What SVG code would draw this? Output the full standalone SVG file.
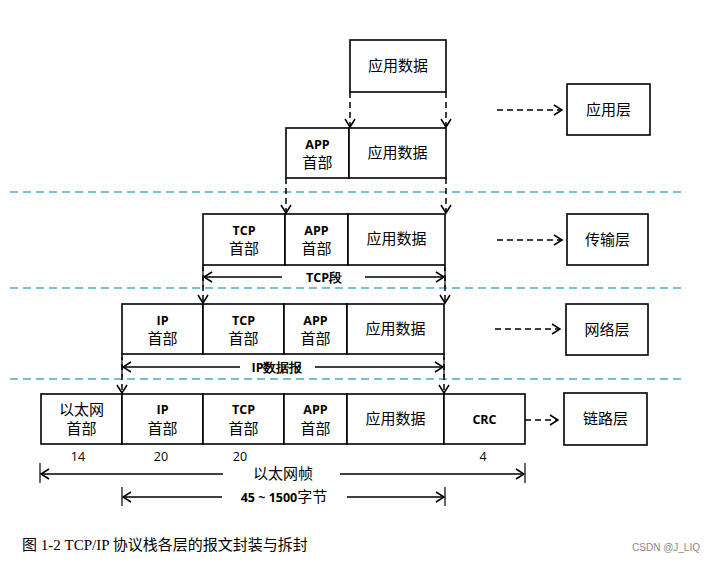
<svg xmlns="http://www.w3.org/2000/svg" width="715" height="563" viewBox="0 0 715 563">
<style>
.box{fill:#fff;stroke:#000;stroke-width:1.6}
.cn{font-family:"Liberation Serif","Noto Sans CJK SC",serif;font-size:15px;fill:#000;text-anchor:middle}
.en{font-family:"Open Sans","Liberation Sans",sans-serif;font-weight:bold;font-size:12.5px;fill:#000;text-anchor:middle}
.num{font-family:"Open Sans","Liberation Sans",sans-serif;font-size:12.5px;fill:#000;text-anchor:middle}
.dash{stroke:#000;stroke-width:1.5;stroke-dasharray:6 4;fill:none}
.sep{stroke:#4bacc6;stroke-width:1.5;stroke-dasharray:8 5;fill:none}
.sol{stroke:#000;stroke-width:1.5;fill:none}
.tick{stroke:#000;stroke-width:1.2}
</style>
<defs>
<marker id="v" markerWidth="12" markerHeight="12" refX="10" refY="6" orient="auto" markerUnits="userSpaceOnUse">
<path d="M2,1 L10,6 L2,11" fill="none" stroke="#000" stroke-width="1.5"/>
</marker>
</defs>
<rect width="715" height="563" fill="#fff"/>

<g id="separators">
<line class="sep" x1="10" y1="192" x2="686" y2="192"/>
<line class="sep" x1="10" y1="288" x2="686" y2="288"/>
<line class="sep" x1="10" y1="379" x2="686" y2="379"/>
</g>

<g id="row1">
<g id="r1-data"><rect class="box" x="350" y="40" width="96" height="52"/><text class="cn" x="398" y="71">应用数据</text></g>
</g>
<g id="row2">
<g id="r2-app"><rect class="box" x="286" y="128" width="63" height="50"/><text class="en" x="317.5" y="149">APP</text><text class="cn" x="317.5" y="168">首部</text></g>
<g id="r2-data"><rect class="box" x="349" y="128" width="97" height="50"/><text class="cn" x="397.5" y="158">应用数据</text></g>
</g>
<g id="row3">
<g id="r3-tcp"><rect class="box" x="203" y="214" width="82" height="51"/><text class="en" x="244" y="235">TCP</text><text class="cn" x="244" y="254">首部</text></g>
<g id="r3-app"><rect class="box" x="285" y="214" width="63" height="51"/><text class="en" x="316.5" y="235">APP</text><text class="cn" x="316.5" y="254">首部</text></g>
<g id="r3-data"><rect class="box" x="348" y="214" width="97" height="51"/><text class="cn" x="396.5" y="244">应用数据</text></g>
</g>
<g id="row4">
<g id="r4-ip"><rect class="box" x="122" y="304" width="81" height="50"/><text class="en" x="162.5" y="325">IP</text><text class="cn" x="162.5" y="344">首部</text></g>
<g id="r4-tcp"><rect class="box" x="203" y="304" width="81" height="50"/><text class="en" x="243.5" y="325">TCP</text><text class="cn" x="243.5" y="344">首部</text></g>
<g id="r4-app"><rect class="box" x="284" y="304" width="63" height="50"/><text class="en" x="315.5" y="325">APP</text><text class="cn" x="315.5" y="344">首部</text></g>
<g id="r4-data"><rect class="box" x="347" y="304" width="97" height="50"/><text class="cn" x="395.5" y="334">应用数据</text></g>
</g>
<g id="row5">
<g id="r5-eth"><rect class="box" x="41" y="394" width="81" height="50"/><text class="cn" x="81.5" y="415">以太网</text><text class="cn" x="81.5" y="434">首部</text></g>
<g id="r5-ip"><rect class="box" x="122" y="394" width="81" height="50"/><text class="en" x="162.5" y="414">IP</text><text class="cn" x="162.5" y="434">首部</text></g>
<g id="r5-tcp"><rect class="box" x="203" y="394" width="81" height="50"/><text class="en" x="243.5" y="414">TCP</text><text class="cn" x="243.5" y="434">首部</text></g>
<g id="r5-app"><rect class="box" x="284" y="394" width="63" height="50"/><text class="en" x="315.5" y="414">APP</text><text class="cn" x="315.5" y="434">首部</text></g>
<g id="r5-data"><rect class="box" x="347" y="394" width="97" height="50"/><text class="cn" x="395.5" y="424">应用数据</text></g>
<g id="r5-crc"><rect class="box" x="444" y="394" width="81" height="50"/><text class="en" x="484.5" y="424">CRC</text></g>
</g>

<g id="layer-app"><rect class="box" x="567" y="84" width="83" height="51"/><text class="cn" x="608.5" y="115">应用层</text></g>
<g id="layer-trans"><rect class="box" x="567" y="214" width="81" height="51"/><text class="cn" x="607.5" y="245">传输层</text></g>
<g id="layer-net"><rect class="box" x="566" y="304" width="82" height="51"/><text class="cn" x="607" y="335">网络层</text></g>
<g id="layer-link"><rect class="box" x="564" y="393" width="83" height="52"/><text class="cn" x="605.5" y="424">链路层</text></g>

<g id="connectors">
<line class="dash" x1="350" y1="92" x2="350" y2="127" marker-end="url(#v)"/>
<line class="dash" x1="446" y1="92" x2="446" y2="127" marker-end="url(#v)"/>
<line class="dash" x1="286" y1="178" x2="286" y2="213" marker-end="url(#v)"/>
<line class="dash" x1="446" y1="178" x2="446" y2="213" marker-end="url(#v)"/>
<line class="dash" x1="203" y1="265" x2="203" y2="303" marker-end="url(#v)"/>
<line class="dash" x1="445" y1="265" x2="445" y2="303" marker-end="url(#v)"/>
<line class="dash" x1="122" y1="354" x2="122" y2="393" marker-end="url(#v)"/>
<line class="dash" x1="444" y1="354" x2="444" y2="393" marker-end="url(#v)"/>
<line class="dash" x1="497" y1="110" x2="562" y2="110" marker-end="url(#v)"/>
<line class="dash" x1="497" y1="240" x2="562" y2="240" marker-end="url(#v)"/>
<line class="dash" x1="495" y1="329" x2="560" y2="329" marker-end="url(#v)"/>
<line class="dash" x1="525" y1="420" x2="558" y2="420" marker-end="url(#v)"/>
</g>

<g id="dimensions">
<line class="tick" x1="203" y1="267" x2="203" y2="287"/>
<line class="tick" x1="445" y1="267" x2="445" y2="287"/>
<line class="sol" x1="282" y1="277" x2="204" y2="277" marker-end="url(#v)"/>
<line class="sol" x1="365" y1="277" x2="444" y2="277" marker-end="url(#v)"/>
<text class="en" x="324" y="282">TCP段</text>

<line class="tick" x1="122" y1="357" x2="122" y2="377"/>
<line class="tick" x1="444" y1="357" x2="444" y2="377"/>
<line class="sol" x1="240" y1="367" x2="123" y2="367" marker-end="url(#v)"/>
<line class="sol" x1="315" y1="367" x2="443" y2="367" marker-end="url(#v)"/>
<text class="en" x="277" y="372">IP数据报</text>

<text class="num" x="78" y="461">14</text>
<text class="num" x="161" y="461">20</text>
<text class="num" x="240" y="461">20</text>
<text class="num" x="483" y="461">4</text>

<line class="tick" x1="40" y1="463" x2="40" y2="483"/>
<line class="tick" x1="525" y1="463" x2="525" y2="483"/>
<line class="sol" x1="223" y1="474" x2="41" y2="474" marker-end="url(#v)"/>
<line class="sol" x1="340" y1="474" x2="524" y2="474" marker-end="url(#v)"/>
<text class="cn" x="283" y="479">以太网帧</text>

<line class="tick" x1="122" y1="487" x2="122" y2="506"/>
<line class="tick" x1="445" y1="487" x2="445" y2="506"/>
<line class="sol" x1="222" y1="497" x2="123" y2="497" marker-end="url(#v)"/>
<line class="sol" x1="347" y1="497" x2="444" y2="497" marker-end="url(#v)"/>
<text class="en" x="284" y="502">45 ~ 1500<tspan font-family="Liberation Serif,Noto Sans CJK SC,serif" font-weight="normal" font-size="15">字节</tspan></text>
</g>

<g id="caption">
<text x="22" y="550" font-family="Liberation Serif,Noto Sans CJK SC,serif" font-size="15" fill="#000">图 1-2 TCP/IP 协议栈各层的报文封装与拆封</text>
<text x="700" y="551" font-family="Liberation Sans,sans-serif" font-size="10" fill="#888" text-anchor="end">CSDN @J_LIQ</text>
</g>
</svg>
